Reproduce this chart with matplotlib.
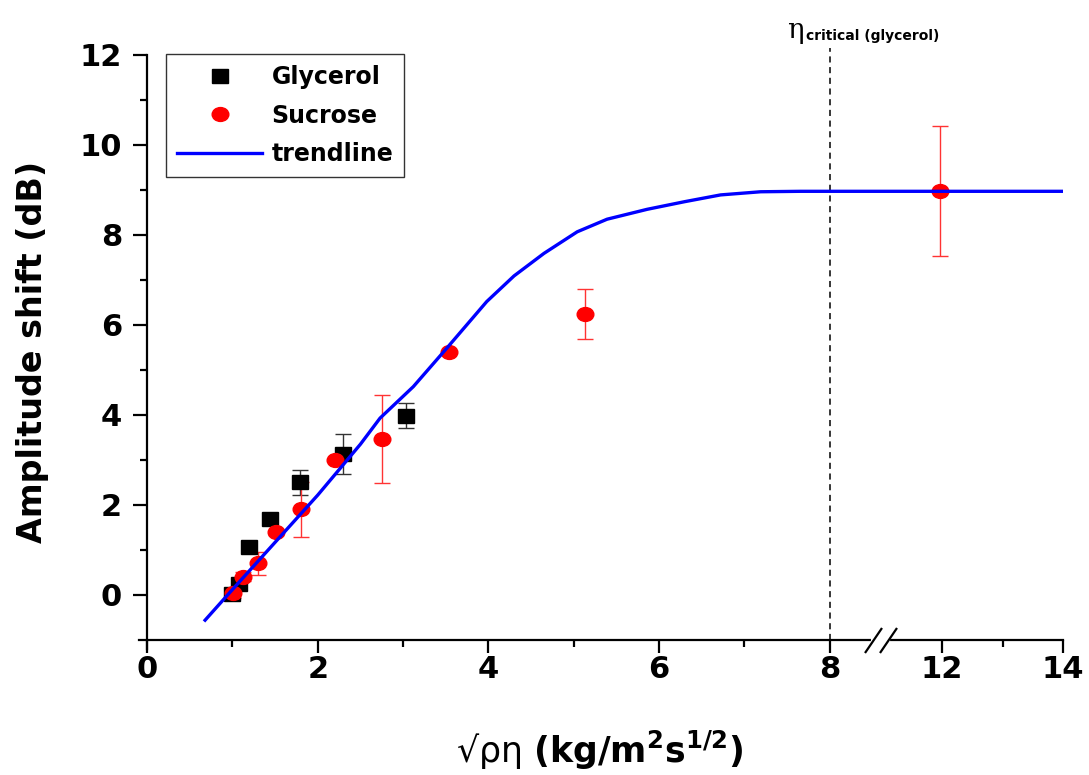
import numpy as np
import matplotlib.pyplot as plt
from matplotlib.markers import MarkerStyle
from matplotlib.transforms import Affine2D

# glicerol
gli_x = [1.00, 1.08, 1.19, 1.44, 1.79, 2.30, 3.03]
gli_y = [0.03, 0.24, 1.07, 1.68, 2.50, 3.13, 3.98]
gli_err = [0.05, 0.08, 0.05, 0.05, 0.27, 0.44, 0.28]

# sacarose
sac_x = [1.01, 1.13, 1.30, 1.51, 1.80, 2.20, 2.75, 3.54, 5.13, 11.97]
sac_y = [0.04, 0.41, 0.70, 1.39, 1.90, 3.00, 3.47, 5.40, 6.24, 8.98]
sac_err = [0.10, 0.10, 0.25, 0.05, 0.61, 0.05, 0.98, 0.05, 0.56, 1.45]

# linha de tendencia
tend_x = [0.68, 1.0, 1.5, 2.0, 2.5, 2.73, 3.12, 3.51, 3.98, 4.3, 4.65, 5.04,
          5.39, 5.86, 6.3, 6.72, 7.19, 7.66, 14.0]
tend_y = [-0.56, 0.12, 1.17, 2.22, 3.35, 3.93, 4.63, 5.48, 6.52, 7.09, 7.59, 8.07,
          8.35, 8.57, 8.74, 8.89, 8.96, 8.97, 8.97]

eta_critico = 8

# quebra do eixo x entre corte_a e corte_b
corte_a, corte_b, vao = 8.5, 11.1, 0.176
fator = 60.5 / 85.3


def ida(x):
    x = np.asarray(x, dtype=float)
    meio = corte_a + (x - corte_a) * vao / (corte_b - corte_a)
    fim = corte_a + vao + (x - corte_b) * fator
    return np.where(x <= corte_a, x, np.where(x < corte_b, meio, fim))


def volta(u):
    u = np.asarray(u, dtype=float)
    meio = corte_a + (u - corte_a) * (corte_b - corte_a) / vao
    fim = corte_b + (u - corte_a - vao) / fator
    return np.where(u <= corte_a, u, np.where(u < corte_a + vao, meio, fim))


fig = plt.figure(figsize=(10.89, 7.75), dpi=100)
ax = fig.add_axes([0.1272, 0.1626, 0.849, 0.7665])
ax.set_xscale('function', functions=(ida, volta))

quadrado = MarkerStyle('s', transform=Affine2D().scale(1.15, 1.0))
bola = MarkerStyle('o', transform=Affine2D().scale(1.2, 1.0))

ax.errorbar(gli_x, gli_y, yerr=gli_err, fmt='none', ecolor='#333333',
            elinewidth=1, capsize=5.5, capthick=1, zorder=2)
ax.errorbar(sac_x, sac_y, yerr=sac_err, fmt='none', ecolor='#ff3333',
            elinewidth=1, capsize=5.5, capthick=1, zorder=2)
ax.plot(gli_x, gli_y, linestyle='none', marker=quadrado, markersize=9.5,
        color='black', label='Glycerol', zorder=3)
ax.plot(sac_x, sac_y, linestyle='none', marker=bola, markersize=10,
        color='#ff0000', label='Sucrose', zorder=3)
ax.plot(tend_x, tend_y, color='#0000ff', linewidth=2.4, label='trendline', zorder=4)

ax.plot([eta_critico, eta_critico], [-1, 12.15], color='black', linestyle='--',
        linewidth=1.1, dashes=(4, 3), clip_on=False, zorder=1)

ax.set_xlim(-0.1, 14)
ax.set_ylim(-1.2, 12)
ax.set_xticks([0, 2, 4, 6, 8, 12, 14])
ax.set_xticks([1, 3, 5, 7, 13], minor=True)
ax.set_yticks(range(0, 13, 2))
ax.set_yticks(range(1, 12, 2), minor=True)

for lado in ['top', 'right']:
    ax.spines[lado].set_visible(False)
ax.spines['left'].set_position(('data', 0))
ax.spines['bottom'].set_position(('data', -1))
for lado in ['left', 'bottom']:
    ax.spines[lado].set_linewidth(1.6)

ax.tick_params(axis='x', which='major', direction='out', length=9, width=1.6, pad=2)
ax.tick_params(axis='y', which='major', direction='out', length=10, width=1.6, pad=8)
ax.tick_params(which='minor', direction='out', length=5, width=1.6)
for t in ax.get_xticklabels() + ax.get_yticklabels():
    t.set_fontsize(22)
    t.set_fontweight('bold')

# marca de quebra //
ax.plot([corte_a, corte_b], [-1, -1], color='white', linewidth=3,
        clip_on=False, zorder=5)
barra = [(-0.68, -1), (0.68, 1)]
ax.plot([corte_a, corte_b], [-1, -1], linestyle='none', marker=barra,
        markersize=18, markeredgewidth=1.6, color='black', clip_on=False, zorder=6)

ax.legend(loc='upper left', bbox_to_anchor=(0.0297, 1.0014), prop={'weight': 'bold', 'size': 17},
          frameon=True, fancybox=False, edgecolor='#333333', framealpha=1,
          handlelength=3.6, handletextpad=0.4, labelspacing=0.61, borderpad=0.47,
          borderaxespad=0)
ax.get_legend().get_frame().set_linewidth(1.0)

fig.text(33 / 1089, 1 - 352 / 775, 'Amplitude shift (dB)', rotation=90,
         fontsize=24, fontweight='bold', ha='center', va='center')
fig.text(600 / 1089, 1 - 750 / 775, r'√ρη $\mathbf{(kg/m^{2}s^{1/2})}$',
         fontsize=25, ha='center', va='center')

fig.text(795 / 1089, 1 - 30 / 775, 'η', fontsize=20, family='DejaVu Serif',
         ha='center', va='center')
fig.text(806 / 1089, 1 - 40 / 775, 'critical (glycerol)', fontsize=10,
         fontweight='bold', ha='left', va='baseline')

fig.savefig('out.png', dpi=100)
